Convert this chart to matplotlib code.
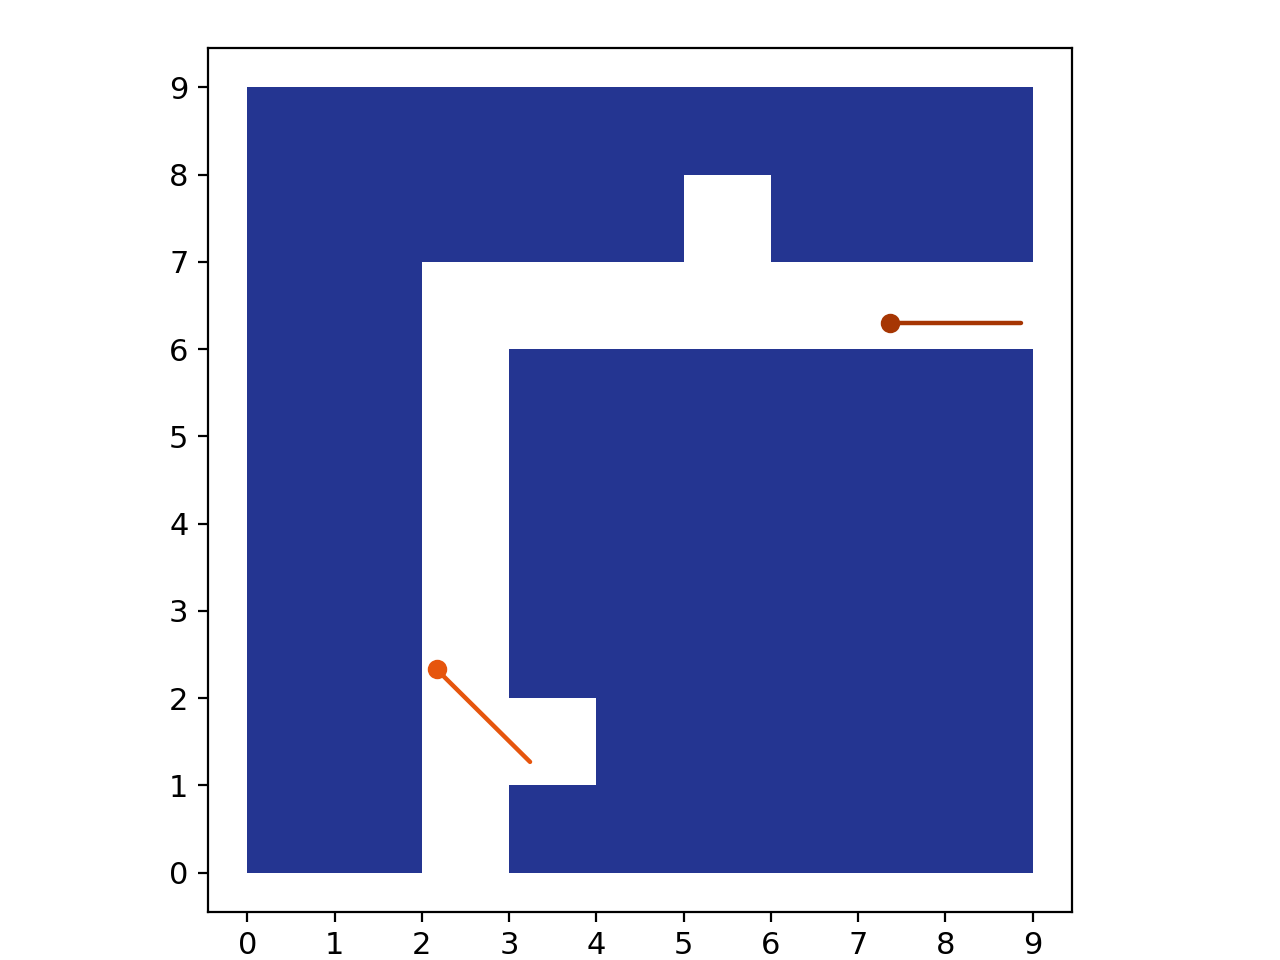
import numpy as np
import matplotlib.pyplot as plt
from matplotlib.patches import Rectangle

# occupancy grid, top row is y=8, 1 = wall
grid_rows = [
    "111111111",
    "111110111",
    "110000000",
    "110111111",
    "110111111",
    "110111111",
    "110111111",
    "110011111",
    "110111111",
]

# two agents: position and heading end point
agent1_start = [2.17, 2.33]
agent1_end = [3.24, 1.27]
agent2_start = [7.36, 6.30]
agent2_end = [8.87, 6.30]

wall_color = "#243591"
agent_colors = ["#e6550d", "#a63603"]

fig = plt.figure(figsize=(6.4, 4.8), dpi=200)
ax = fig.add_axes([0.1625, 0.05, 0.675, 0.9])

n = len(grid_rows)
for r, row in enumerate(grid_rows):
    y = n - 1 - r
    for x, c in enumerate(row):
        if c == "1":
            ax.add_patch(Rectangle((x, y), 1, 1, facecolor=wall_color,
                                   edgecolor="none"))

for (s, e), col in zip([(agent1_start, agent1_end), (agent2_start, agent2_end)],
                       agent_colors):
    ax.plot([s[0], e[0]], [s[1], e[1]], color=col, lw=1.6,
            solid_capstyle="round")
    ax.plot(s[0], s[1], "o", color=col, ms=6)

ax.set_xlim(-0.45, 9.45)
ax.set_ylim(-0.45, 9.45)
ax.set_aspect("equal")
ax.set_xticks(range(10))
ax.set_yticks(range(10))
ax.tick_params(labelsize=11)

fig.savefig("out.png", dpi=200)
